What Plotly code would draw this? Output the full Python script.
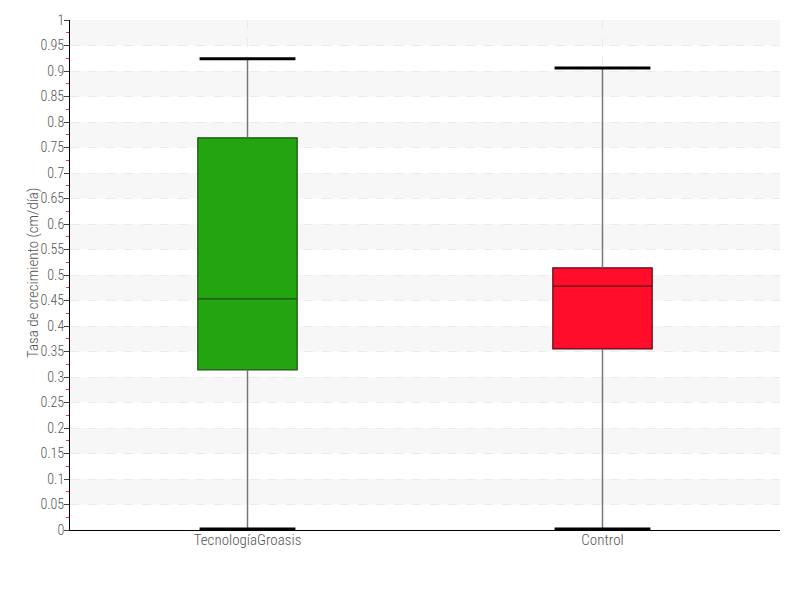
import plotly.graph_objects as go

categories = ["TecnologíaGroasis", "Control"]
q1 = [0.314, 0.355]
median = [0.453, 0.478]
q3 = [0.769, 0.514]
lower_whisker = [0.002, 0.002]
upper_whisker = [0.924, 0.906]
fill_colors = ["#22a50f", "#ff0d2a"]
line_colors = ["#1f4d14", "#5c1018"]
y_ticks = [round(i * 0.05, 2) for i in range(21)]

FONT = "Roboto Condensed, Roboto, sans-serif"
BOX_W = 0.28
CAP_W = 0.27

fig = go.Figure()

shapes = []
for i in range(len(y_ticks) - 1):
    if i % 2 == 1:
        shapes.append(dict(type="rect", xref="paper", yref="y", x0=0, x1=1,
                           y0=y_ticks[i], y1=y_ticks[i + 1],
                           fillcolor="#f7f7f7", line_width=0, layer="below"))

for i, cat in enumerate(categories):
    fig.add_trace(go.Scatter(x=[i, i], y=[lower_whisker[i], q1[i]], mode="lines",
                             line=dict(color="#777777", width=1.5), showlegend=False, hoverinfo="skip"))
    fig.add_trace(go.Scatter(x=[i, i], y=[q3[i], upper_whisker[i]], mode="lines",
                             line=dict(color="#777777", width=1.5), showlegend=False, hoverinfo="skip"))
    for v in (lower_whisker[i], upper_whisker[i]):
        fig.add_trace(go.Scatter(x=[i - CAP_W / 2, i + CAP_W / 2], y=[v, v], mode="lines",
                                 line=dict(color="#000000", width=3), showlegend=False, hoverinfo="skip"))
    fig.add_trace(go.Box(x=[i], q1=[q1[i]], median=[median[i]], q3=[q3[i]],
                         lowerfence=[q1[i]], upperfence=[q3[i]], width=BOX_W,
                         fillcolor=fill_colors[i], line=dict(color=line_colors[i], width=1.2),
                         whiskerwidth=0, showlegend=False, name=cat))

tick_font = dict(family=FONT, size=15, color="#555555", weight=300)

fig.update_layout(
    width=800, height=600,
    margin=dict(l=62, r=28, t=12, b=78),
    paper_bgcolor="white", plot_bgcolor="white",
    font=dict(family=FONT, size=14, color="#555555", weight=300),
    shapes=shapes,
    showlegend=False,
    annotations=[dict(text="Tasa de crecimiento (cm/día)", xref="paper", yref="paper",
                      x=-0.052, y=0.504, xanchor="center", yanchor="middle", textangle=-90,
                      showarrow=False, font=dict(family=FONT, size=15, color="#555555", weight=300))],
)
fig.update_xaxes(
    range=[-0.5, 1.5], tickmode="array", tickvals=list(range(len(categories))), ticktext=categories,
    showline=True, linecolor="#000000", linewidth=1,
    showgrid=True, gridcolor="#ebebeb", griddash="dash", gridwidth=1,
    ticks="", zeroline=False, automargin=False, ticklabelstandoff=-4,
    tickfont=tick_font,
)
fig.update_yaxes(
    range=[0, 1], tickmode="linear", tick0=0, dtick=0.05,
    showline=True, linecolor="#000000", linewidth=1,
    ticks="outside", ticklen=5, tickcolor="#444444",
    showgrid=True, gridcolor="#ebebeb", griddash="dash", gridwidth=1,
    zeroline=False, automargin=False, ticklabelstandoff=-3,
    tickfont=dict(family=FONT, size=14, color="#555555", weight=300),
    minor=dict(ticks="outside", ticklen=3, tickcolor="#ff3333", dtick=0.025, tick0=0.025, showgrid=False),
)

fig.write_html("out.html")
